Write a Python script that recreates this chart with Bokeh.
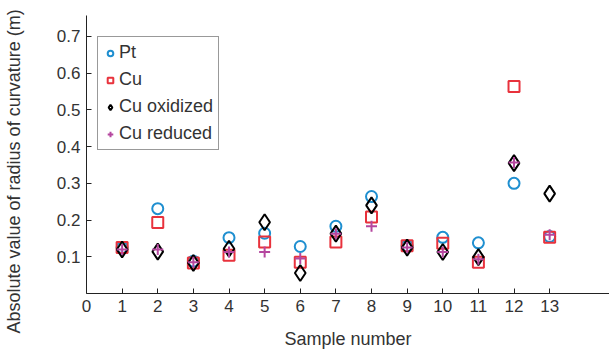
from bokeh.plotting import figure
from bokeh.models import Range1d, Legend, LegendItem, FixedTicker, ColumnDataSource, Title
from bokeh.embed import file_html
from bokeh.resources import INLINE

samples = [1, 2, 3, 4, 5, 6, 7, 8, 9, 10, 11, 12, 13]
pt = [0.125, 0.231, 0.088, 0.152, 0.164, 0.128, 0.183, 0.264, 0.130, 0.153, 0.138, 0.300, 0.155]
cu = [0.125, 0.193, 0.083, 0.104, 0.140, 0.085, 0.140, 0.208, 0.130, 0.137, 0.085, 0.564, 0.153]
cu_ox = [0.120, 0.114, 0.083, 0.122, 0.194, 0.056, 0.163, 0.240, 0.125, 0.113, 0.099, 0.355, 0.272]
cu_red = [0.120, 0.120, 0.085, 0.113, 0.113, 0.095, 0.163, 0.183, 0.125, 0.113, 0.093, 0.357, 0.160]
x_ticks = list(range(0, 14))
y_ticks = [0.1, 0.2, 0.3, 0.4, 0.5, 0.6, 0.7]

FONT = "Liberation Sans"
FS = "17px"
LFS = "18px"

p = figure(width=609, height=351, output_backend="svg", toolbar_location=None,
           x_range=Range1d(0, 14.68), y_range=Range1d(0, 0.757),
           min_border_left=86, min_border_right=0, min_border_top=15, min_border_bottom=58)
p.outline_line_color = None
p.grid.visible = False
p.background_fill_color = "white"
p.border_fill_color = "white"

src = ColumnDataSource(dict(x=samples, pt=pt, cu=cu, ox=cu_ox, red=cu_red))

r_pt = p.scatter("x", "pt", source=src, marker="circle", size=11, fill_color=None,
                 line_color="#1f8fd0", line_width=2)
r_cu = p.scatter("x", "cu", source=src, marker="square", size=11, fill_color=None,
                 line_color="#e8323c", line_width=2)
r_ox = p.scatter("x", "ox", source=src, marker="diamond", size=16, fill_color=None,
                 line_color="black", line_width=2)
r_red = p.scatter("x", "red", source=src, marker="cross", size=11, fill_color=None,
                  line_color="#b5479f", line_width=2)

for ax in (p.xaxis[0], p.yaxis[0]):
    ax.major_tick_in = 5
    ax.major_tick_out = 0
    ax.minor_tick_line_color = None
    ax.axis_line_color = "#222222"
    ax.major_tick_line_color = "#222222"
    ax.major_label_text_font = FONT
    ax.major_label_text_font_size = FS
    ax.major_label_text_color = "#333333"
    ax.axis_label_text_font = FONT
    ax.axis_label_text_font_size = LFS
    ax.axis_label_text_font_style = "normal"
    ax.axis_label_text_color = "#333333"

p.xaxis[0].ticker = FixedTicker(ticks=x_ticks)
p.yaxis[0].ticker = FixedTicker(ticks=y_ticks)
p.xaxis[0].axis_label = "Sample number"
p.xaxis[0].major_label_standoff = 6
p.yaxis[0].major_label_standoff = 6
p.xaxis[0].axis_label_standoff = 14
# invisible spacer between the y tick labels and the y title
p.yaxis[0].axis_label = " "
p.yaxis[0].axis_label_text_font_size = "1px"
p.yaxis[0].axis_label_standoff = 26

ytitle = Title(text="Absolute value of radius of curvature (m)", align="left", offset=-40,
               text_font=FONT, text_font_size=LFS, text_font_style="normal",
               text_color="#333333", standoff=0)
p.add_layout(ytitle, "left")

legend = Legend(items=[
    LegendItem(label="Pt", renderers=[r_pt]),
    LegendItem(label="Cu", renderers=[r_cu]),
    LegendItem(label="Cu oxidized", renderers=[r_ox]),
    LegendItem(label="Cu reduced", renderers=[r_red]),
], location=(11, 143))
legend.label_text_font = FONT
legend.label_text_font_size = LFS
legend.label_text_color = "#333333"
legend.border_line_color = "#333333"
legend.border_line_width = 1
legend.glyph_width = 14
legend.label_standoff = 2
legend.label_height = 20
legend.glyph_height = 20
legend.spacing = 6
legend.padding = 5
legend.margin = 0
p.add_layout(legend)

open("out.html", "w").write(file_html(p, INLINE))
